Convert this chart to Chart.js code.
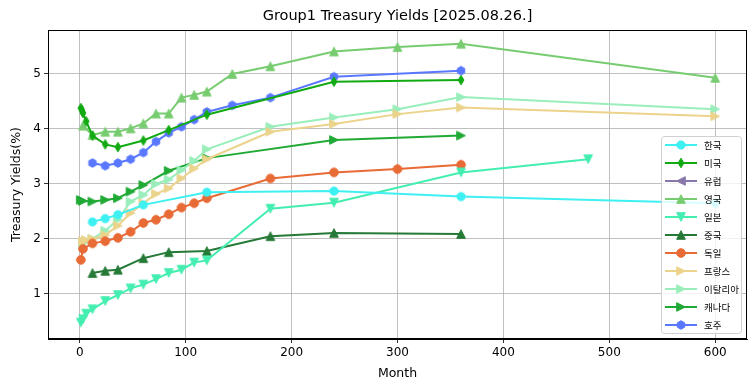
<!DOCTYPE html>
<html>
<head>
<meta charset="utf-8">
<script src="https://cdn.jsdelivr.net/npm/chart.js@4"></script>
<style>
  body { margin: 0; background: #fff; }
  canvas { display: block; }
</style>
</head>
<body>
<canvas id="yieldChart" width="755" height="391"></canvas>
<script>
// maturities in months, yields in %
const monthsKR = [12, 24, 36, 60, 120, 240, 360, 600];
const yieldKR = [2.31, 2.37, 2.44, 2.62, 2.85, 2.87, 2.77, 2.65];

const monthsUS = [1, 2, 3, 6, 12, 24, 36, 60, 84, 120, 240, 360];
const yieldUS = [4.38, 4.34, 4.29, 4.14, 3.88, 3.72, 3.67, 3.79, 3.98, 4.26, 4.86, 4.89];

const monthsEU = [];
const yieldEU = [];

const monthsUK = [3, 12, 24, 36, 48, 60, 72, 84, 96, 108, 120, 144, 180, 240, 300, 360, 600];
const yieldUK = [4.06, 3.89, 3.95, 3.95, 4.01, 4.10, 4.28, 4.28, 4.57, 4.62, 4.68, 5.00, 5.14, 5.41, 5.49, 5.55, 4.93];

const monthsJP = [1, 3, 6, 12, 24, 36, 48, 60, 72, 84, 96, 108, 120, 180, 240, 360, 480];
const yieldJP = [0.48, 0.54, 0.64, 0.72, 0.87, 0.98, 1.10, 1.17, 1.27, 1.38, 1.44, 1.57, 1.61, 2.55, 2.66, 3.21, 3.45];

const monthsCN = [12, 24, 36, 60, 84, 120, 180, 240, 360];
const yieldCN = [1.38, 1.42, 1.44, 1.65, 1.76, 1.78, 2.05, 2.11, 2.09];

const monthsDE = [1, 3, 12, 24, 36, 48, 60, 72, 84, 96, 108, 120, 180, 240, 300, 360];
const yieldDE = [1.62, 1.82, 1.92, 1.96, 2.02, 2.13, 2.29, 2.35, 2.45, 2.57, 2.65, 2.74, 3.10, 3.21, 3.27, 3.35];

const monthsFR = [3, 6, 12, 24, 36, 48, 60, 72, 84, 96, 108, 120, 180, 240, 300, 360, 600];
const yieldFR = [1.96, 1.98, 2.00, 2.07, 2.24, 2.47, 2.65, 2.82, 2.92, 3.10, 3.28, 3.45, 3.95, 4.09, 4.27, 4.39, 4.23];

const monthsIT = [3, 6, 12, 24, 36, 48, 60, 72, 84, 96, 108, 120, 180, 240, 300, 360, 600];
const yieldIT = [1.93, 1.96, 2.00, 2.15, 2.35, 2.68, 2.80, 3.00, 3.08, 3.25, 3.42, 3.63, 4.04, 4.21, 4.36, 4.58, 4.36];

const monthsCA = [1, 3, 12, 24, 36, 48, 60, 84, 120, 240, 360];
const yieldCA = [2.71, 2.69, 2.68, 2.71, 2.74, 2.86, 2.98, 3.24, 3.47, 3.80, 3.88];

const monthsAU = [12, 24, 36, 48, 60, 72, 84, 96, 108, 120, 144, 180, 240, 360];
const yieldAU = [3.38, 3.33, 3.38, 3.45, 3.57, 3.77, 3.93, 4.04, 4.17, 4.31, 4.43, 4.57, 4.95, 5.06];

const xTicks = [0, 100, 200, 300, 400, 500, 600];
const yTicks = [1, 2, 3, 4, 5];

const chartTitle = 'Group1 Treasury Yields [2025.08.26.]';

// small canvases used as point markers
function makeMarker(shape, color) {
    const s = 12;
    const c = document.createElement('canvas');
    c.width = s; c.height = s;
    const g = c.getContext('2d');
    const cx = s / 2, cy = s / 2, r = 4.3;
    g.fillStyle = color;
    g.strokeStyle = color;
    g.lineWidth = 1;
    g.beginPath();
    if (shape === 'circle') {
        g.arc(cx, cy, r, 0, Math.PI * 2);
    } else if (shape === 'octagon') {
        for (let i = 0; i < 8; i++) {
            const a = Math.PI / 8 + i * Math.PI / 4;
            g.lineTo(cx + r * Math.cos(a), cy + r * Math.sin(a));
        }
    } else if (shape === 'hexagon') {
        for (let i = 0; i < 6; i++) {
            const a = -Math.PI / 2 + i * Math.PI / 3;
            g.lineTo(cx + r * Math.cos(a), cy + r * Math.sin(a));
        }
    } else if (shape === 'diamond') {
        g.moveTo(cx, cy - 4.8);
        g.lineTo(cx + 2.9, cy);
        g.lineTo(cx, cy + 4.8);
        g.lineTo(cx - 2.9, cy);
    } else if (shape === 'up') {
        g.moveTo(cx, cy - r); g.lineTo(cx + r, cy + r); g.lineTo(cx - r, cy + r);
    } else if (shape === 'down') {
        g.moveTo(cx, cy + r); g.lineTo(cx + r, cy - r); g.lineTo(cx - r, cy - r);
    } else if (shape === 'left') {
        g.moveTo(cx - r, cy); g.lineTo(cx + r, cy - r); g.lineTo(cx + r, cy + r);
    } else if (shape === 'right') {
        g.moveTo(cx + r, cy); g.lineTo(cx - r, cy - r); g.lineTo(cx - r, cy + r);
    }
    g.closePath();
    g.fill();
    g.stroke();
    return c;
}

function series(label, months, yields, color, shape) {
    return {
        label: label,
        data: months.map((m, i) => ({ x: m, y: yields[i] })),
        borderColor: color,
        backgroundColor: color,
        borderWidth: 2,
        showLine: true,
        tension: 0,
        pointStyle: makeMarker(shape, color)
    };
}

const datasets = [
    series('한국', monthsKR, yieldKR, '#3ef0f2', 'octagon'),
    series('미국', monthsUS, yieldUS, '#12aa12', 'diamond'),
    series('유럽', monthsEU, yieldEU, '#8878aa', 'left'),
    series('영국', monthsUK, yieldUK, '#77cc70', 'up'),
    series('일본', monthsJP, yieldJP, '#44eeb0', 'down'),
    series('중국', monthsCN, yieldCN, '#267a38', 'up'),
    series('독일', monthsDE, yieldDE, '#e86a35', 'circle'),
    series('프랑스', monthsFR, yieldFR, '#ecd38c', 'right'),
    series('이탈리아', monthsIT, yieldIT, '#99eebb', 'right'),
    series('캐나다', monthsCA, yieldCA, '#20aa35', 'right'),
    series('호주', monthsAU, yieldAU, '#5a78ff', 'hexagon')
];

// title over the plot, frame, and legend inside the plot (lower right)
const frameAndLegend = {
    id: 'frameAndLegend',
    afterDatasetsDraw(chart) {
        const { ctx, chartArea } = chart;
        ctx.save();
        ctx.strokeStyle = '#000';
        ctx.lineWidth = 1;
        ctx.strokeRect(chartArea.left + 0.5, chartArea.top + 0.5,
            chartArea.right - chartArea.left - 1, chartArea.bottom - chartArea.top - 1);

        ctx.fillStyle = '#000';
        ctx.font = '14.5px "DejaVu Sans"';
        ctx.textAlign = 'center';
        ctx.textBaseline = 'middle';
        ctx.fillText(chartTitle, (chartArea.left + chartArea.right) / 2, 16);

        const rowH = 18;
        const w = 80, h = rowH * (datasets.length - 1) + 17;
        const x0 = chartArea.right - 6 - w;
        const y0 = chartArea.bottom - 6 - h;
        ctx.fillStyle = 'rgba(255,255,255,0.8)';
        ctx.strokeStyle = '#d0d0d0';
        ctx.beginPath();
        ctx.roundRect(x0 + 0.5, y0 + 0.5, w, h, 3);
        ctx.fill();
        ctx.stroke();

        ctx.font = '9.5px "Noto Sans CJK KR"';
        ctx.textAlign = 'left';
        datasets.forEach((ds, i) => {
            const y = y0 + 9 + rowH * i;
            ctx.strokeStyle = ds.borderColor;
            ctx.lineWidth = 2;
            ctx.beginPath();
            ctx.moveTo(x0 + 4, y);
            ctx.lineTo(x0 + 36, y);
            ctx.stroke();
            const m = ds.pointStyle;
            ctx.drawImage(m, x0 + 20 - m.width / 2, y - m.height / 2);
            ctx.fillStyle = '#000';
            ctx.fillText(ds.label, x0 + 43, y + 0.5);
        });
        ctx.restore();
    }
};

Chart.defaults.font.family = '"DejaVu Sans", sans-serif';
Chart.defaults.font.size = 12;
Chart.defaults.color = '#000';

new Chart(document.getElementById('yieldChart'), {
    type: 'scatter',
    data: { datasets: datasets },
    options: {
        responsive: false,
        devicePixelRatio: 1,
        animation: false,
        layout: { padding: { right: 8, left: 0, top: 30, bottom: 0 } },
        plugins: {
            legend: { display: false },
            tooltip: { enabled: false },
            title: { display: false }
        },
        scales: {
            x: {
                type: 'linear',
                min: -30,
                max: 630,
                afterBuildTicks: scale => { scale.ticks = xTicks.map(v => ({ value: v })); },
                afterFit: scale => { scale.height = 52; },
                ticks: { padding: 3, font: { size: 12 } },
                grid: { color: '#b0b0b0', lineWidth: 0.8, tickColor: '#000', tickLength: 4 },
                border: { display: true, color: '#000' },
                title: { display: true, text: 'Month', font: { size: 12.5 }, padding: { top: 4, bottom: 9.5 } }
            },
            y: {
                type: 'linear',
                min: 0.18,
                max: 5.8,
                afterBuildTicks: scale => { scale.ticks = yTicks.map(v => ({ value: v })); },
                afterFit: scale => { scale.width = 48; },
                ticks: { padding: 3, font: { size: 12 } },
                grid: { color: '#b0b0b0', lineWidth: 0.8, tickColor: '#000', tickLength: 4 },
                border: { display: true, color: '#000' },
                title: { display: true, text: 'Treasury Yields(%)', font: { size: 12.5 }, padding: { top: 9.5, bottom: 4 } }
            }
        }
    },
    plugins: [frameAndLegend]
});
</script>
</body>
</html>
